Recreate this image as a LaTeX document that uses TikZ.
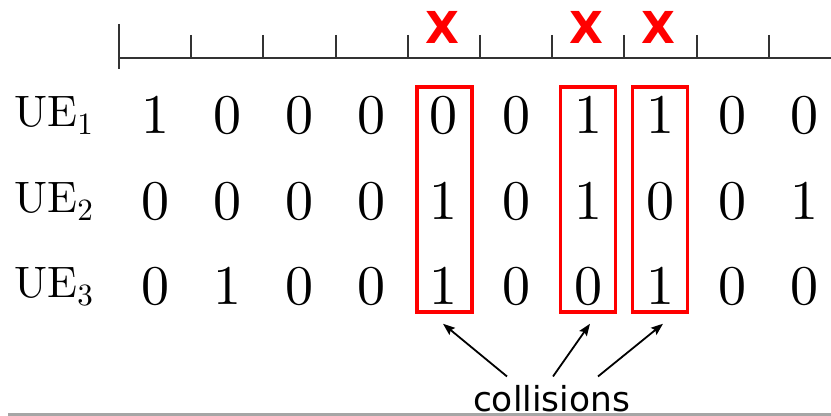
\documentclass[tikz,border=0pt]{standalone}
\usepackage{fontspec}
\usetikzlibrary{arrows.meta}
\setmainfont{lmroman10-regular.otf}
\newfontfamily\dejavu{DejaVu Sans}

\newcommand{\uesub}[1]{\raisebox{-4pt}{\fontsize{15.5}{16}\selectfont #1}}

\tikzset{
  bit/.style={anchor=base, inner sep=0pt, font=\fontsize{28}{30}\selectfont},
  ue/.style={anchor=base west, inner sep=0pt, font=\fontsize{22}{24}\selectfont},
  cross/.style={text=red, inner sep=0pt, font=\dejavu\bfseries\fontsize{22}{24}\selectfont},
  collbox/.style={draw=red, line width=1.75pt, minimum width=27.5pt, minimum height=112.5pt, inner sep=0pt},
  collarrow/.style={-{Stealth[length=6pt, width=4.5pt, inset=1pt]}, line width=0.9pt},
  axis/.style={line width=1pt, black!80},
}

\begin{document}
\begin{tikzpicture}[x=0.5pt, y=-0.5pt]
      \useasboundingbox (0,0) rectangle (831,416);

      % slot axis
      \draw[axis] (119,58) -- (831,58);
      \draw[axis] (119,24) -- (119,69);
      \foreach \k in {1,...,9} {
        \draw[axis] (119 + \k * 72.2, 35) -- (119 + \k * 72.2, 58);
      }

      % users and their bits
      \foreach \r in {1,2,3} {
        \node[ue] (ue\r) at (14, 127 + \r * 85.5 - 85.5) {UE\uesub{\r}};
      }
      \foreach \row [count=\r] in {{1,0,0,0,0,0,1,1,0,0},{0,0,0,0,1,0,1,0,0,1},{0,1,0,0,1,0,0,1,0,0}} {
        \foreach \b [count=\c] in \row {
          \node[bit] (b-\r-\c) at (155.1 + \c * 72.2 - 72.2, 134 + \r * 85.5 - 85.5) {\b};
        }
      }

      % colliding slots
      \foreach \c/\x in {5/444.5, 7/588, 8/660} {
        \node[collbox] (box\c) at (\x, 199.5) {};
        \node[cross] (x\c) at (\x - 2, 27) {X};
      }

      \node[anchor=base, inner sep=0pt, font=\dejavu\fontsize{17.2}{20}\selectfont] (coll) at (551.5,412) {collisions};
      \draw[collarrow] ([xshift=-22.25pt, yshift=4.5pt]coll.north) -- ([xshift=-0.75pt, yshift=-5pt]box5.south);
      \draw[collarrow] ([xshift=0.75pt, yshift=4.5pt]coll.north) -- ([xshift=1pt, yshift=-5pt]box7.south);
      \draw[collarrow] ([xshift=23.25pt, yshift=4.5pt]coll.north) -- ([xshift=1.5pt, yshift=-5pt]box8.south);

      \fill[black!35] (8,413) rectangle (831,416);
\end{tikzpicture}
\end{document}
